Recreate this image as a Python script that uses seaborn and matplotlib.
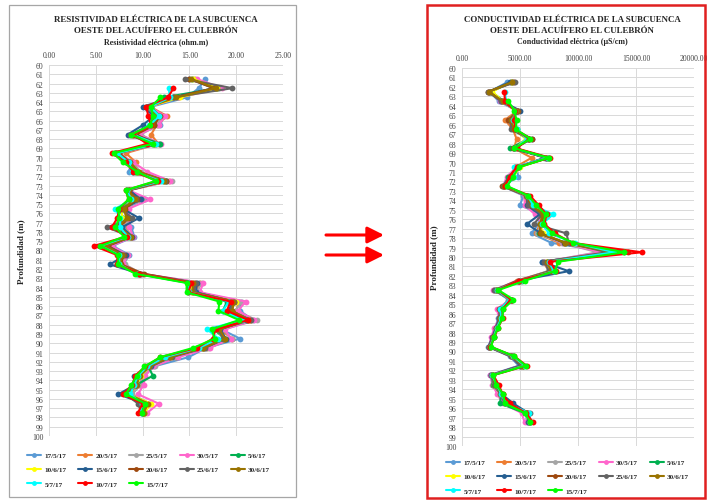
import numpy as np
import pandas as pd
import matplotlib.pyplot as plt
import matplotlib.patches as mpatches
from matplotlib.lines import Line2D
import seaborn as sns

nan = np.nan

# Fechas de muestreo y colores de cada serie
fechas = ['17/5/17', '20/5/17', '25/5/17', '30/5/17', '5/6/17', '10/6/17', '15/6/17',
          '20/6/17', '25/6/17', '30/6/17', '5/7/17', '10/7/17', '15/7/17']
colores = ['#5B9BD5', '#ED7D31', '#A5A5A5', '#FF66CC', '#00B050', '#FFFF00', '#255E91',
           '#9E480E', '#636363', '#997300', '#00FFFF', '#FF0000', '#00FF00']

profundidad = [61.5, 62.5, 63.5, 64.5, 65.5, 66.5, 67.5, 68.5, 69.5, 70.5, 71.5, 72.5, 73.5,
               74.5, 75.5, 76.5, 77.5, 78.5, 79.5, 80.5, 81.5, 82.5, 83.5, 84.5, 85.5, 86.5,
               87.5, 88.5, 89.5, 90.5, 91.5, 92.5, 93.5, 94.5, 95.5, 96.5, 97.5]

# Resistividad eléctrica (ohm.m)
res_17_5 = [16.7, 16.0, 14.7, 10.9, 12.2, 11.9, 9.4, 11.9, 7.2, 8.9, 8.5, 12.6, 8.5, 10.3, 7.9, 8.4, 8.8, 9.1, 6.8, 8.6, 7.9, 9.7, 16.0, 15.9, 20.5, 20.4, 21.8, 18.4, 20.4, 16.8, 14.9, 11.2, 10.2, 9.8, 8.8, 10.8, 10.2]
res_20_5 = [15.6, 17.8, 13.8, 10.8, 12.6, 11.5, 10.9, 11.7, 8.2, 9.3, 9.4, 12.8, 8.6, 9.6, 8.2, 8.2, 8.1, 8.9, 6.5, 8.3, 8.0, 9.8, 16.1, 15.7, 20.3, 20.0, 21.6, 18.2, 19.6, 16.9, 13.6, 11.0, 10.0, 9.6, 8.6, 10.6, 10.0]
res_25_5 = [15.4, 18.2, 13.5, 10.6, 12.0, 11.6, 9.8, 11.8, 7.6, 8.8, 9.8, 13.1, 8.4, 10.0, 8.0, 8.8, 7.9, 9.0, 6.4, 8.2, 8.1, 9.9, 16.3, 15.8, 20.6, 19.9, 22.2, 18.6, 19.5, 17.1, 13.4, 11.3, 9.9, 9.7, 8.9, 10.3, 10.3]
res_30_5 = [15.8, 18.5, 13.9, 10.7, 12.4, 11.7, 9.6, 12.0, 7.4, 9.0, 10.5, 12.9, 8.5, 10.8, 8.5, 8.6, 8.6, 9.0, 6.7, 8.4, 7.9, 9.8, 16.5, 16.1, 21.0, 20.2, 21.9, 18.8, 19.4, 17.2, 13.8, 11.1, 10.3, 10.1, 9.5, 11.7, 10.5]
res_5_6 = [15.3, 17.9, 12.3, 10.9, 11.8, 11.2, 9.1, 11.9, 7.0, 8.3, 9.2, 12.5, 8.3, 9.0, 7.6, 7.9, 7.2, 8.6, 5.8, 7.6, 7.6, 9.4, 14.9, 14.8, 19.0, 18.6, 21.0, 17.6, 18.8, 16.3, 12.6, 10.6, 11.1, 9.3, 8.4, 10.4, 10.1]
res_10_6 = [15.4, 18.0, 14.0, 10.6, 11.5, 11.0, 9.0, 11.3, 7.3, 8.5, 9.4, 12.3, 8.4, 9.0, 7.8, 7.8, 7.6, 8.6, 6.0, 7.8, 7.5, 9.5, 15.3, 15.2, 20.0, 19.4, 21.4, 18.0, 18.6, 16.5, 13.0, 10.8, 9.8, 9.4, 8.5, 10.9, 10.2]
res_15_6 = [15.0, 17.6, 13.2, 10.0, 11.2, 10.0, 8.4, 11.2, 7.2, 8.6, 9.0, 12.2, 8.6, 9.8, 7.9, 9.6, 7.8, 8.9, 6.2, 8.2, 6.5, 9.7, 15.8, 15.7, 19.6, 19.2, 21.2, 18.3, 18.9, 16.6, 12.9, 10.9, 9.1, 9.2, 7.4, 10.2, 9.9]
res_20_6 = [15.0, 17.6, 13.4, 10.4, 11.9, 11.2, 9.3, 11.4, 7.5, 8.7, 9.5, 12.5, 8.5, 9.4, 8.1, 8.5, 7.5, 8.8, 6.3, 8.0, 7.7, 10.1, 15.6, 15.4, 19.8, 19.5, 21.5, 18.1, 18.7, 16.4, 12.8, 10.7, 9.5, 9.3, 8.3, 10.3, 10.0]
res_25_6 = [14.5, 19.6, 13.2, 10.5, 11.4, 10.8, 8.7, 11.0, 7.1, 8.4, 9.3, 12.4, 8.3, 9.3, 7.7, 8.9, 6.2, 8.7, 6.1, 7.9, 7.3, 9.6, 15.7, 15.5, 19.8, 19.3, 21.6, 18.0, 18.6, 16.7, 13.1, 10.8, 9.6, 9.4, 8.2, 9.5, 9.9]
res_30_6 = [15.2, 17.8, 13.6, 10.6, 11.6, 11.0, 8.9, 11.2, 7.2, 8.6, 9.6, 12.3, 8.4, 9.2, 8.0, 8.3, 7.4, 8.8, 6.0, 7.8, 7.6, 9.6, 15.4, 15.3, 19.7, 19.6, 21.3, 18.2, 18.8, 16.5, 12.9, 10.7, 9.7, 9.3, 8.5, 10.6, 10.1]
res_5_7 = [nan, 12.8, 12.9, 10.8, 11.8, 10.7, 9.0, 11.4, 7.3, 8.5, 8.9, 12.0, 8.3, 8.8, 7.1, 7.6, 7.6, 8.4, 5.5, 7.5, 7.5, 9.4, 15.0, 15.0, 19.2, 18.6, 20.6, 16.9, 18.1, 16.0, 12.4, 10.5, 9.5, 9.1, 8.7, 9.9, 9.8]
res_10_7 = [nan, 13.3, 12.7, 10.4, 10.6, 10.9, 9.0, 10.5, 6.7, 8.2, 9.0, 11.6, 8.2, 8.5, 7.5, 7.3, 6.7, 8.3, 4.8, 7.3, 7.3, 9.6, 15.2, 14.9, 19.4, 19.0, 21.3, 17.8, 17.5, 15.8, 11.9, 10.3, 9.2, 8.9, 7.9, 10.0, 9.5]
res_15_7 = [nan, nan, 11.9, 10.9, 11.1, 10.8, 8.8, 11.1, 6.9, 7.9, 9.4, 11.4, 8.2, 8.5, 7.4, 7.5, 7.1, 8.0, 5.5, 7.4, 7.4, 9.2, 14.7, 14.7, 18.2, 18.1, 20.3, 17.4, 17.7, 15.4, 11.9, 10.2, 9.4, 8.8, 8.2, 10.3, 9.9]

# Conductividad eléctrica (µS/cm)
con_17_5 = [3900, 2400, 3150, 4700, 4100, 4500, 5800, 4600, 7200, 4700, 4850, 3500, 5300, 5000, 6800, 6600, 6000, 7700, 12800, 6900, 7700, 4800, 2800, 4000, 3300, 3100, 2900, 2600, 2250, 4100, 4900, 2400, 2700, 3200, 3600, 5500, 5600]
con_20_5 = [4200, 2500, 3500, 4800, 3700, 4400, 4700, 4500, 6000, 4600, 4300, 3600, 5500, 5500, 6900, 6700, 6400, 8400, 12500, 7000, 7500, 4700, 2900, 4100, 3200, 3200, 3000, 2700, 2300, 4200, 5100, 2500, 2800, 3300, 3800, 5600, 5700]
con_25_5 = [4300, 2450, 3400, 4700, 4000, 4600, 5600, 4700, 7100, 4800, 4200, 3700, 5600, 5700, 7000, 6800, 6500, 8600, 11700, 7200, 7400, 4900, 2800, 4200, 3300, 3300, 3000, 2700, 2400, 4300, 5200, 2600, 2800, 3300, 3700, 5500, 5800]
con_30_5 = [4400, 2350, 3300, 4650, 4200, 4600, 5700, 4400, 7300, 4700, 3860, 3550, 5400, 5400, 6300, 6900, 6700, 8700, 12000, 7100, 7600, 4800, 2710, 4200, 3000, 3200, 2800, 2500, 2350, 4200, 5000, 2450, 2600, 3050, 3500, 5140, 5400]
con_5_6 = [4300, 2500, 3600, 4750, 4300, 4700, 5700, 4150, 7400, 4900, 4000, 3650, 5600, 6000, 7200, 7000, 6600, 9000, 14000, 7300, 7800, 5200, 2900, 4300, 3300, 3400, 3050, 2750, 2450, 4400, 5300, 2600, 2650, 3350, 3290, 5400, 5900]
con_10_6 = [4200, 2600, 3500, 4600, 4300, 4500, 5500, 4600, 7300, 5000, 4400, 3700, 5500, 5800, 7300, 6700, 7000, 8800, 12800, 7200, 7700, 5000, 2900, 4100, 3400, 3300, 3000, 2700, 2400, 4300, 5200, 2550, 2800, 3300, 3800, 5500, 5800]
con_15_6 = [4100, 2350, 3400, 5000, 4100, 4400, 6000, 4500, 7200, 4800, 4200, 3600, 5700, 5600, 6700, 5600, 6800, 8800, 13000, 6860, 9200, 4900, 3000, 4200, 3300, 3200, 2900, 2600, 2300, 4200, 5000, 2500, 2900, 3400, 4430, 5700, 5700]
con_20_6 = [4500, 2250, 3450, 4800, 4000, 4600, 6000, 4400, 7500, 4600, 4300, 3450, 5600, 5900, 7100, 6800, 6700, 8900, 14300, 7400, 7800, 4800, 2900, 4300, 3200, 3300, 2950, 2700, 2350, 4300, 5300, 2600, 3000, 3500, 4000, 5600, 5900]
con_25_6 = [4600, 2230, 3350, 4750, 4200, 4200, 5800, 4500, 7200, 4700, 4100, 3500, 5500, 5700, 6900, 6200, 9000, 9200, 12500, 7100, 7500, 4900, 2800, 4100, 3300, 3200, 3000, 2650, 2300, 4200, 5100, 2500, 2800, 3300, 3700, 5860, 5800]
con_30_6 = [4300, 2300, 3500, 4700, 4200, 4500, 5700, 4600, 7400, 4800, 4300, 3600, 5600, 6000, 7000, 6700, 6800, 8900, 13100, 7300, 7700, 5000, 3000, 4200, 3400, 3300, 3050, 2700, 2400, 4300, 5300, 2600, 2900, 3400, 3900, 5600, 5900]
con_5_7 = [nan, 3700, 3800, 4600, 4400, 4700, 5600, 4600, 7400, 4500, 4500, 3750, 5700, 6100, 7850, 6900, 7500, 9700, 13140, 7500, 7900, 5000, 3000, 4100, 3300, 3400, 3000, 2750, 2400, 4400, 5400, 2600, 3000, 3400, 3800, 5800, 5900]
con_10_7 = [nan, 3650, 3700, 4550, 4500, 4600, 5800, 4700, 7600, 4700, 4100, 3700, 5850, 6600, 7300, 7100, 8000, 9500, 15500, 7600, 8100, 4900, 3100, 4200, 3500, 3500, 3100, 2800, 2450, 4500, 5570, 2700, 3150, 3500, 4100, 5500, 6140]
con_15_7 = [nan, nan, 4000, 4500, 4700, 4650, 5900, 4500, 7500, 4900, 4400, 3900, 5700, 6400, 7200, 7000, 7800, 9600, 14000, 8290, 8000, 5430, 3140, 4430, 3570, 3450, 3100, 2750, 2500, 4500, 5500, 2700, 2950, 3550, 3700, 5400, 5900]

resistividad = [res_17_5, res_20_5, res_25_5, res_30_5, res_5_6, res_10_6, res_15_6,
                res_20_6, res_25_6, res_30_6, res_5_7, res_10_7, res_15_7]
conductividad = [con_17_5, con_20_5, con_25_5, con_30_5, con_5_6, con_10_6, con_15_6,
                 con_20_6, con_25_6, con_30_6, con_5_7, con_10_7, con_15_7]


def tabla_larga(series):
    filas = []
    for fecha, valores in zip(fechas, series):
        for p, v in zip(profundidad, valores):
            if not np.isnan(v):
                filas.append((fecha, p, v))
    return pd.DataFrame(filas, columns=['fecha', 'profundidad', 'valor'])


df_res = tabla_larga(resistividad)
df_con = tabla_larga(conductividad)
paleta = dict(zip(fechas, colores))

sns.set_style('white')
plt.rcParams['font.family'] = ['Liberation Serif', 'DejaVu Serif']

W, H = 707, 502
fig = plt.figure(figsize=(W / 100, H / 100), dpi=100)


def px_ax(x0, y0, x1, y1):
    return [x0 / W, 1 - y1 / H, (x1 - x0) / W, (y1 - y0) / H]


ax1 = fig.add_axes(px_ax(49, 66, 283, 437))
ax2 = fig.add_axes(px_ax(462, 69, 694, 447))

# la leyenda de Excel se llena por filas; matplotlib llena por columnas
orden_leyenda = [0, 5, 10, 1, 6, 11, 2, 7, 12, 3, 8, 4, 9]


def dibujar(ax, df, xmax, xpaso, titulo1, titulo2, subtitulo, xc, leg_x, leg_y):
    sns.lineplot(data=df, x='valor', y='profundidad', hue='fecha', hue_order=fechas,
                 palette=paleta, orient='y', sort=False, estimator=None,
                 marker='o', markersize=4.2, markeredgewidth=0, linewidth=1.5,
                 legend=False, ax=ax)
    ax.set_xlim(0, xmax)
    ax.set_ylim(100, 60)
    xt = np.arange(0, xmax + 1, xpaso)
    ax.set_xticks(xt)
    ax.set_xticklabels([f'{v:.2f}' for v in xt])
    ax.set_yticks(range(60, 101))
    ax.xaxis.set_ticks_position('top')
    ax.tick_params(length=0, labelsize=5.5, pad=4, colors='#404040')
    ax.grid(True, color='#D9D9D9', linewidth=0.7)
    ax.set_axisbelow(True)
    for s in ax.spines.values():
        s.set_visible(False)
    ax.set_xlabel('')
    ax.set_ylabel('Profundidad (m)', fontsize=6.5, fontweight='bold')
    ax.yaxis.set_label_coords(-0.103, 0.5)

    fig.text(xc / W, 1 - 20 / H, titulo1, ha='center', va='center', fontsize=6.4, fontweight='bold')
    fig.text(xc / W, 1 - 31 / H, titulo2, ha='center', va='center', fontsize=6.4, fontweight='bold')
    fig.text(xc / W, 1 - 42.5 / H, subtitulo, ha='center', va='center', fontsize=5.8, fontweight='bold')

    handles = [Line2D([], [], color=c, marker='o', markersize=3.5, markeredgewidth=0, linewidth=1.5)
               for c in colores]
    fig.legend([handles[i] for i in orden_leyenda], [fechas[i] for i in orden_leyenda],
               loc='upper left', bbox_to_anchor=(leg_x / W, 1 - leg_y / H),
               ncol=5, frameon=False, handlelength=2.0, handletextpad=0.4,
               columnspacing=1.6, labelspacing=1.15, borderpad=0, borderaxespad=0,
               prop={'weight': 'bold', 'size': 5.2})


dibujar(ax1, df_res, 25, 5, 'RESISTIVIDAD ELÉCTRICA DE LA SUBCUENCA',
        'OESTE DEL ACUÍFERO EL CULEBRÓN', 'Resistividad eléctrica (ohm.m)', 156, 27, 453)
dibujar(ax2, df_con, 20000, 5000, 'CONDUCTIVIDAD ELÉCTRICA DE LA SUBCUENCA',
        'OESTE DEL ACUÍFERO EL CULEBRÓN', 'Conductividad eléctrica (µS/cm)', 572, 446, 460)

# Marcos de cada gráfico
fig.add_artist(mpatches.Rectangle((9 / W, 1 - 498 / H), 287 / W, 492 / H, transform=fig.transFigure,
                                  fill=False, edgecolor='#A6A6A6', linewidth=0.9))
fig.add_artist(mpatches.Rectangle((427 / W, 1 - 499 / H), 278 / W, 493 / H, transform=fig.transFigure,
                                  fill=False, edgecolor='#E02020', linewidth=1.8))

# Flechas entre los gráficos
for yy in [236, 256]:
    fig.add_artist(mpatches.FancyArrowPatch((326 / W, 1 - yy / H), (384 / W, 1 - yy / H),
                                            transform=fig.transFigure, color='#FF0000',
                                            arrowstyle='-|>,head_length=0.9,head_width=0.45',
                                            mutation_scale=11, linewidth=2.2,
                                            shrinkA=0, shrinkB=0))

fig.savefig('out.png', dpi=100)
